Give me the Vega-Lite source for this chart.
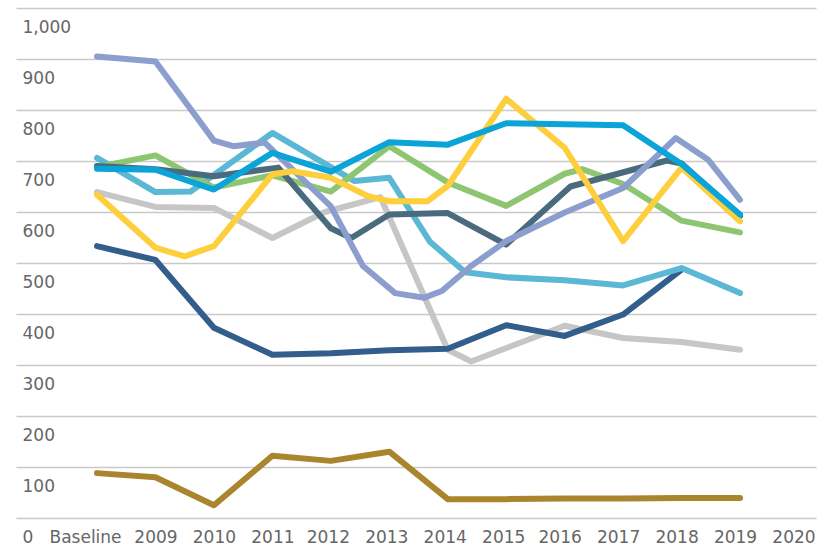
{
  "$schema": "https://vega.github.io/schema/vega-lite/v6.json",
  "width": 800,
  "height": 510,
  "autosize": "none",
  "padding": {"left": 16, "top": 8, "right": 10, "bottom": 28},
  "background": "white",
  "config": {"view": {"stroke": null}, "font": "DejaVu Sans"},
  "data": {"values": [
    {"s": "a", "t": 0, "v": 88}, {"s": "a", "t": 1, "v": 80}, {"s": "a", "t": 2, "v": 25}, {"s": "a", "t": 3, "v": 122}, {"s": "a", "t": 4, "v": 112}, {"s": "a", "t": 5, "v": 130}, {"s": "a", "t": 6, "v": 37}, {"s": "a", "t": 7, "v": 37}, {"s": "a", "t": 8, "v": 38}, {"s": "a", "t": 9, "v": 38}, {"s": "a", "t": 10, "v": 39}, {"s": "a", "t": 11, "v": 39},

    {"s": "b", "t": 0, "v": 639}, {"s": "b", "t": 1, "v": 610}, {"s": "b", "t": 2, "v": 608}, {"s": "b", "t": 3, "v": 549}, {"s": "b", "t": 3.9, "v": 600}, {"s": "b", "t": 4.85, "v": 629}, {"s": "b", "t": 6, "v": 330}, {"s": "b", "t": 6.4, "v": 307}, {"s": "b", "t": 8, "v": 377}, {"s": "b", "t": 9, "v": 353}, {"s": "b", "t": 10, "v": 345}, {"s": "b", "t": 11, "v": 330},

    {"s": "c", "t": 0, "v": 533}, {"s": "c", "t": 1, "v": 506}, {"s": "c", "t": 2, "v": 373}, {"s": "c", "t": 3, "v": 320}, {"s": "c", "t": 4, "v": 323}, {"s": "c", "t": 5, "v": 329}, {"s": "c", "t": 6, "v": 332}, {"s": "c", "t": 7, "v": 378}, {"s": "c", "t": 8, "v": 357}, {"s": "c", "t": 9, "v": 399}, {"s": "c", "t": 10, "v": 487},

    {"s": "d", "t": 0, "v": 706}, {"s": "d", "t": 1, "v": 639}, {"s": "d", "t": 1.6, "v": 640}, {"s": "d", "t": 3, "v": 755}, {"s": "d", "t": 4.4, "v": 661}, {"s": "d", "t": 5, "v": 667}, {"s": "d", "t": 5.7, "v": 541}, {"s": "d", "t": 6.3, "v": 482}, {"s": "d", "t": 7, "v": 472}, {"s": "d", "t": 8, "v": 466}, {"s": "d", "t": 9, "v": 456}, {"s": "d", "t": 10, "v": 490}, {"s": "d", "t": 11, "v": 441},

    {"s": "e", "t": 0, "v": 688}, {"s": "e", "t": 1, "v": 711}, {"s": "e", "t": 2, "v": 648}, {"s": "e", "t": 3, "v": 672}, {"s": "e", "t": 4, "v": 640}, {"s": "e", "t": 5, "v": 729}, {"s": "e", "t": 6, "v": 658}, {"s": "e", "t": 7, "v": 612}, {"s": "e", "t": 8, "v": 675}, {"s": "e", "t": 8.3, "v": 684}, {"s": "e", "t": 9, "v": 655}, {"s": "e", "t": 10, "v": 583}, {"s": "e", "t": 11, "v": 560},

    {"s": "f", "t": 0, "v": 690}, {"s": "f", "t": 1, "v": 684}, {"s": "f", "t": 2, "v": 670}, {"s": "f", "t": 3.1, "v": 687}, {"s": "f", "t": 4, "v": 568}, {"s": "f", "t": 4.35, "v": 549}, {"s": "f", "t": 5, "v": 595}, {"s": "f", "t": 6, "v": 598}, {"s": "f", "t": 7, "v": 536}, {"s": "f", "t": 8.1, "v": 650}, {"s": "f", "t": 9.75, "v": 701}, {"s": "f", "t": 10, "v": 695}, {"s": "f", "t": 11, "v": 592},

    {"s": "g", "t": 0, "v": 905}, {"s": "g", "t": 1, "v": 895}, {"s": "g", "t": 2, "v": 740}, {"s": "g", "t": 2.33, "v": 729}, {"s": "g", "t": 2.87, "v": 736}, {"s": "g", "t": 4, "v": 611}, {"s": "g", "t": 4.55, "v": 494}, {"s": "g", "t": 5.1, "v": 441}, {"s": "g", "t": 5.6, "v": 432}, {"s": "g", "t": 5.9, "v": 445}, {"s": "g", "t": 6.4, "v": 494}, {"s": "g", "t": 7, "v": 543}, {"s": "g", "t": 8, "v": 599}, {"s": "g", "t": 9, "v": 647}, {"s": "g", "t": 9.9, "v": 745}, {"s": "g", "t": 10.45, "v": 703}, {"s": "g", "t": 11, "v": 624},

    {"s": "h", "t": 0, "v": 634}, {"s": "h", "t": 1, "v": 530}, {"s": "h", "t": 1.5, "v": 513}, {"s": "h", "t": 2, "v": 533}, {"s": "h", "t": 3, "v": 674}, {"s": "h", "t": 3.35, "v": 680}, {"s": "h", "t": 4, "v": 667}, {"s": "h", "t": 4.64, "v": 631}, {"s": "h", "t": 5, "v": 621}, {"s": "h", "t": 5.65, "v": 621}, {"s": "h", "t": 6, "v": 651}, {"s": "h", "t": 7, "v": 822}, {"s": "h", "t": 8, "v": 726}, {"s": "h", "t": 9, "v": 543}, {"s": "h", "t": 10, "v": 687}, {"s": "h", "t": 11, "v": 582},

    {"s": "i", "t": 0, "v": 685}, {"s": "i", "t": 1, "v": 683}, {"s": "i", "t": 2, "v": 644}, {"s": "i", "t": 3, "v": 716}, {"s": "i", "t": 4, "v": 679}, {"s": "i", "t": 5, "v": 737}, {"s": "i", "t": 6, "v": 732}, {"s": "i", "t": 7, "v": 774}, {"s": "i", "t": 8, "v": 772}, {"s": "i", "t": 9, "v": 770}, {"s": "i", "t": 10, "v": 694}, {"s": "i", "t": 11, "v": 595}
  ]},
  "mark": {"type": "line", "strokeWidth": 6, "strokeCap": "round", "strokeJoin": "round"},
  "encoding": {
    "x": {
      "field": "t", "type": "quantitative",
      "scale": {"domain": [-1.386, 12.3], "nice": false, "zero": false},
      "axis": {
        "values": [0, 1, 2, 3, 4, 5, 6, 7, 8, 9, 10, 11, 12],
        "labelExpr": "datum.value == 0 ? 'Baseline' : '' + (2008 + datum.value)",
        "title": null, "grid": false, "domain": false, "ticks": false,
        "labelFont": "DejaVu Sans", "labelFontSize": 17, "labelColor": "#666666",
        "labelPadding": 11, "labelFlush": false, "labelOverlap": false,
        "labelOffset": {
          "condition": [
            {"test": "datum.value == 0", "value": -12},
            {"test": "datum.value <= 3", "value": 0},
            {"test": "datum.value <= 7", "value": -3}
          ],
          "value": -5
        }
      }
    },
    "y": {
      "field": "v", "type": "quantitative",
      "scale": {"domain": [0, 1000], "nice": false},
      "axis": {
        "values": [0, 100, 200, 300, 400, 500, 600, 700, 800, 900, 1000],
        "format": ",.0f",
        "title": null, "domain": false, "ticks": false, "tickSize": 0,
        "grid": true, "gridColor": "#c9c9c9", "gridWidth": 1.5,
        "labelAlign": "left", "labelBaseline": "middle", "labelPadding": -6,
        "labelOffset": 19, "labelFlush": false,
        "labelFont": "DejaVu Sans", "labelFontSize": 17, "labelColor": "#666666"
      }
    },
    "color": {
      "field": "s", "type": "nominal", "legend": null,
      "scale": {
        "domain": ["a", "b", "c", "d", "e", "f", "g", "h", "i"],
        "range": ["#A9862D", "#C6C6C6", "#335E8C", "#5AB8D5", "#8EC571", "#4A6B7E", "#8C9ECD", "#FECF3D", "#0AA4D8"]
      }
    }
  }
}
